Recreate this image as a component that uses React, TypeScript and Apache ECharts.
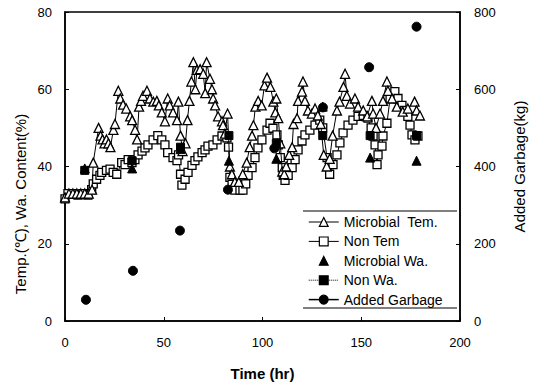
import React, { useEffect, useRef } from "react";
import * as echarts from "echarts";

// ---- data ----
const microbialTemTime = [0, 2, 4, 6, 8, 10, 12, 13.7, 14.3, 17, 18, 19, 20, 21, 22, 23, 24.5, 25.3, 27, 28, 29.4, 31, 33, 34, 35.5, 36.5, 37.5, 38.5, 39.5, 41.5, 43, 44.7, 46.5, 47.5, 49, 50.6, 52, 53, 54.7, 56.7, 57.4, 58.5, 59.5, 61, 62, 63, 64, 65, 66, 66.8, 68.4, 70, 71, 71.7, 73.4, 74.4, 75, 76, 77.5, 79.5, 80, 81, 82.3, 83.5, 84.5, 86, 88, 90, 92, 93.5, 94.7, 95.4, 96.4, 97.8, 99.6, 101, 102.3, 104, 105.5, 106.5, 107, 108, 109, 110, 111, 112, 113.5, 115, 115.7, 117.5, 118, 120, 120.5, 121.5, 123, 125, 126.6, 128, 129.5, 131, 132.5, 134, 135.5, 137.7, 139, 141, 141.8, 142.7, 144.3, 146.8, 148.4, 151, 153, 155.4, 156, 157.5, 159.5, 161, 163, 163.5, 165.6, 168, 171, 173.6, 177, 178, 179.7];
const microbialTemValue = [32, 33, 33, 33, 33, 33, 33, 34, 41, 50, 48, 47, 46, 47, 46, 45, 49.5, 51, 59.6, 57.6, 56, 55, 53, 52, 49.5, 47, 55.5, 57, 58.3, 59.6, 57.6, 56.8, 57, 55.8, 54, 51.7, 57.6, 55.8, 54, 52, 56.8, 48, 44, 46, 52, 57, 62, 67, 60, 65, 65.2, 64, 59, 67, 62.7, 60, 57.6, 55.8, 53, 51.7, 50.7, 48.5, 53.7, 40, 38, 36, 36, 38, 41, 45, 48, 50.7, 55.5, 57, 55.8, 61, 63, 60.6, 56.8, 54, 57.6, 52.5, 46, 38.7, 38, 40, 43, 45, 51, 52.5, 57, 59.4, 62, 57, 54.5, 53.7, 55, 53.2, 51, 43, 40, 42, 48, 54.5, 56.8, 60.6, 64, 58.3, 56.3, 57.6, 55.5, 54.5, 53, 57, 53.7, 50, 53.7, 57, 62, 59.6, 57.6, 55.5, 54.2, 55, 56.8, 54.5, 53.2];

const nonTemTime = [0, 1.5, 4, 6.6, 9, 11.6, 13.5, 14.3, 16, 17.7, 18.6, 21, 22.8, 24.4, 26.2, 28.7, 30.4, 32, 33.9, 35.4, 37, 39, 40.5, 42, 44.6, 47, 49, 50.6, 52, 54.7, 56.7, 57.5, 58.5, 59.2, 60.8, 62.3, 64.3, 65.8, 67.3, 69.4, 70.9, 72.4, 74.9, 77, 79.5, 82, 82.8, 83.5, 84.6, 86, 88.6, 90.1, 91.5, 92.7, 94.7, 96.2, 97.7, 99.7, 102.3, 103.8, 105.3, 107.3, 108, 109, 110, 110.5, 111.4, 113, 115, 116.5, 118, 120, 121.5, 124, 126.6, 129, 130.5, 132.7, 134, 135.7, 137.7, 139.2, 140.8, 143.3, 145.8, 148.4, 151, 153.4, 155, 156, 157, 158, 158.5, 160.5, 161, 163, 164.6, 167, 168.6, 170.6, 172, 173.6, 174.7, 175.7, 177.2, 178.7];
const nonTemValue = [31.6, 33, 33, 32.6, 33, 32.6, 34, 35.5, 36.7, 37.7, 38.5, 39, 39.3, 38.5, 38, 41, 40.5, 41.8, 41, 41.8, 43, 44, 44.8, 45.6, 46.9, 48, 46.9, 45.6, 43.6, 42.3, 41.5, 43, 38, 35.2, 36.7, 38.5, 40.3, 41.5, 42.5, 43.6, 44.3, 45.3, 45.6, 46.9, 47.9, 47.4, 45, 37.2, 35.4, 33.9, 33.9, 33.9, 35.5, 37.7, 39.7, 42.3, 44.8, 46.9, 49.4, 51.2, 49.9, 48.2, 45.6, 42.3, 39.7, 37.7, 36.4, 37.7, 39.7, 41.8, 44.3, 46.6, 48.2, 49.4, 50.7, 52, 50, 42.3, 38, 40.5, 43, 46.1, 48.7, 50.7, 52, 53, 53.2, 52.5, 50, 47.9, 45.6, 40.5, 43, 45.3, 47.9, 51.2, 57.6, 59.4, 57.6, 55.8, 54.5, 53, 50.7, 48.2, 46.9, 47.9];

const waTime = [10, 34, 58.5, 83, 107, 130.5, 154.5, 178];
const microbialWa = [39.5, 39.5, 44.5, 41.5, 42, 55.5, 42.3, 41.5];
const nonWa = [39, 41.5, 45, 48, 46, 48, 48, 48];

const garbageTime = [10.6, 34.4, 58.2, 82.5, 106, 130.6, 154, 178];
const addedGarbage = [55, 130, 234, 340, 447, 553, 657, 762];

const xTicks = { min: 0, max: 200, interval: 50 };
const leftTicks = { min: 0, max: 80, interval: 20 };
const rightTicks = { min: 0, max: 800, interval: 200 };

const FONT = "Liberation Sans, Arial, Helvetica, sans-serif";

const zip = (a: number[], b: number[]) => a.map((t, i) => [t, b[i]]);

export default function App() {
  const ref = useRef<HTMLDivElement>(null);
  useEffect(() => {
    if (!ref.current) return;
    const chart = echarts.init(ref.current, null, { renderer: "svg" });
    const axisCommon = {
      axisLine: { show: true, lineStyle: { color: "#000", width: 1.5 } },
      axisTick: { show: true, inside: true, length: 4, lineStyle: { color: "#000" } },
      axisLabel: { color: "#000", fontSize: 13, fontFamily: FONT },
      splitLine: { show: false },
    };
    chart.setOption({
      animation: false,
      backgroundColor: "#fff",
      grid: {
        left: 65,
        right: 74,
        top: 12,
        bottom: 60,
        show: true,
        borderColor: "#000",
        borderWidth: 1.5,
        containLabel: false,
      },
      xAxis: {
        type: "value",
        ...xTicks,
        ...axisCommon,
        axisLabel: { ...axisCommon.axisLabel, margin: 15 },
        name: "Time (hr)",
        nameLocation: "middle",
        nameGap: 45,
        nameTextStyle: { color: "#000", fontSize: 15, fontFamily: FONT, fontWeight: "bold" },
      },
      yAxis: [
        {
          type: "value",
          ...leftTicks,
          ...axisCommon,
          axisLabel: { ...axisCommon.axisLabel, margin: 13 },
        },
        {
          type: "value",
          position: "right",
          ...rightTicks,
          ...axisCommon,
          axisLabel: { ...axisCommon.axisLabel, margin: 14 },
          name: "Added Garbage(kg)",
          nameLocation: "middle",
          nameGap: 52,
          nameRotate: 90,
          nameTextStyle: { color: "#000", fontSize: 15, fontFamily: FONT },
        },
      ],
      legend: {
        orient: "vertical",
        left: 308,
        top: 215,
        padding: 0,
        itemWidth: 30,
        itemHeight: 11,
        itemGap: 5.4,
        textStyle: { color: "#000", fontSize: 14, fontFamily: FONT },
        itemStyle: { borderWidth: 1.2 },
        lineStyle: { width: 1, color: "#000", opacity: 1 },
        data: [
          { name: "Microbial  Tem." },
          { name: "Non Tem" },
          { name: "Microbial Wa.", lineStyle: { width: 0, opacity: 0 } },
          { name: "Non Wa.", lineStyle: { width: 1, type: "dotted", opacity: 1, color: "#000" } },
          { name: "Added Garbage", lineStyle: { width: 1.5, type: "solid", opacity: 1, color: "#000" } },
        ],
      },
      graphic: [
        {
          type: "text",
          x: 20,
          y: 204,
          rotation: Math.PI / 2,
          style: {
            text: "Temp.(℃), Wa. Content(%)",
            fill: "#000",
            fontSize: 15,
            fontFamily: FONT,
            textAlign: "center",
            textVerticalAlign: "middle",
          },
        },
        { type: "line", shape: { x1: 303, y1: 211, x2: 457, y2: 211 }, style: { stroke: "#000", lineWidth: 1 } },
        { type: "line", shape: { x1: 303, y1: 308, x2: 457, y2: 308 }, style: { stroke: "#000", lineWidth: 1 } },
      ],
      series: [
        {
          name: "Non Tem",
          type: "line",
          data: zip(nonTemTime, nonTemValue),
          symbol: "rect",
          symbolSize: 8,
          showAllSymbol: true,
          lineStyle: { color: "#000", width: 1 },
          itemStyle: { color: "#fff", borderColor: "#000", borderWidth: 1.3 },
          z: 2,
        },
        {
          name: "Microbial  Tem.",
          type: "line",
          data: zip(microbialTemTime, microbialTemValue),
          symbol: "triangle",
          symbolSize: 9,
          showAllSymbol: true,
          lineStyle: { color: "#000", width: 1 },
          itemStyle: { color: "#fff", borderColor: "#000", borderWidth: 1.3 },
          z: 3,
        },
        {
          name: "Microbial Wa.",
          type: "line",
          data: zip(waTime, microbialWa),
          symbol: "triangle",
          symbolSize: 9,
          lineStyle: { opacity: 0, width: 0 },
          itemStyle: { color: "#000", borderColor: "#000" },
          z: 4,
        },
        {
          name: "Non Wa.",
          type: "line",
          data: zip(waTime, nonWa),
          symbol: "rect",
          symbolSize: 8,
          lineStyle: { opacity: 0, type: "dotted" },
          itemStyle: { color: "#000", borderColor: "#000" },
          z: 4,
        },
        {
          name: "Added Garbage",
          type: "line",
          yAxisIndex: 1,
          data: zip(garbageTime, addedGarbage),
          symbol: "circle",
          symbolSize: 9,
          lineStyle: { opacity: 0 },
          itemStyle: { color: "#000", borderColor: "#000" },
          z: 4,
        },
      ],
    });
    return () => chart.dispose();
  }, []);
  return <div ref={ref} style={{ width: 535, height: 386, position: "absolute", left: 0, top: 0 }} />;
}
